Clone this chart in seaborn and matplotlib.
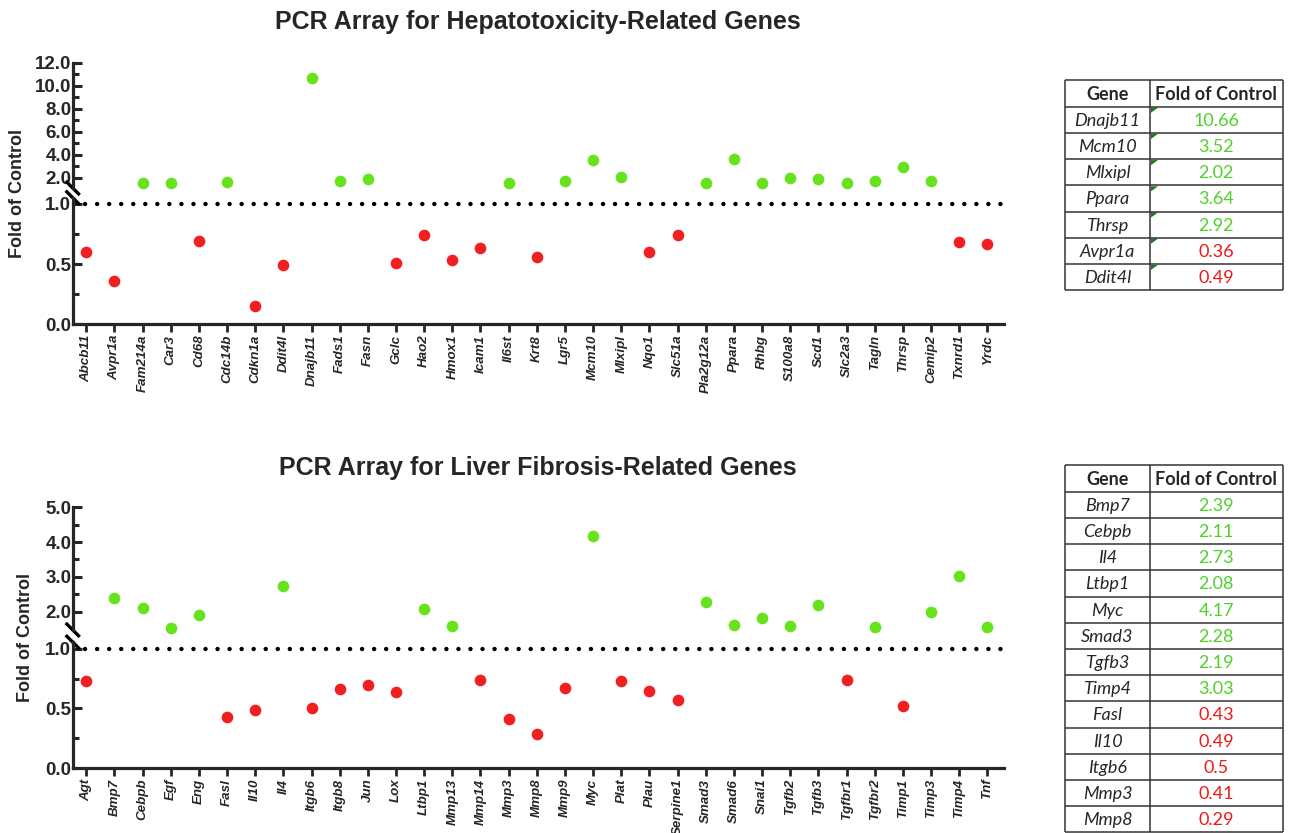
import numpy as np
import pandas as pd
import seaborn as sns
import matplotlib.pyplot as plt
from matplotlib.patches import Polygon


sns.set_theme(style='ticks')
plt.rcParams['font.family'] = ['Liberation Sans', 'DejaVu Sans']
plt.rcParams['font.weight'] = 'bold'

green = '#66e31b'
red = '#f11f1f'
tab_green = '#4fd12a'
tab_red = '#f01818'

# hepatotoxicity array
hep_genes = ['Abcb11', 'Avpr1a', 'Fam214a', 'Car3', 'Cd68', 'Cdc14b', 'Cdkn1a',
             'Ddit4l', 'Dnajb11', 'Fads1', 'Fasn', 'Gclc', 'Hao2', 'Hmox1', 'Icam1',
             'Il6st', 'Krt8', 'Lgr5', 'Mcm10', 'Mlxipl', 'Nqo1', 'Slc51a', 'Pla2g12a',
             'Ppara', 'Rhbg', 'S100a8', 'Scd1', 'Slc2a3', 'Tagln', 'Thrsp', 'Cemip2',
             'Txnrd1', 'Yrdc']
hep_fold = [0.60, 0.36, 1.57, 1.54, 0.69, 1.59, 0.15, 0.49, 10.66, 1.74, 1.91,
            0.51, 0.74, 0.53, 0.63, 1.54, 0.56, 1.71, 3.52, 2.02, 0.60, 0.74,
            1.57, 3.64, 1.54, 1.97, 1.86, 1.57, 1.69, 2.92, 1.74, 0.68, 0.67]

# liver fibrosis array
fib_genes = ['Agt', 'Bmp7', 'Cebpb', 'Egf', 'Eng', 'Fasl', 'Il10', 'Il4', 'Itgb6',
             'Itgb8', 'Jun', 'Lox', 'Ltbp1', 'Mmp13', 'Mmp14', 'Mmp3', 'Mmp8', 'Mmp9',
             'Myc', 'Plat', 'Plau', 'Serpine1', 'Smad3', 'Smad6', 'Snai1', 'Tgfb2',
             'Tgfb3', 'Tgfbr1', 'Tgfbr2', 'Timp1', 'Timp3', 'Timp4', 'Tnf']
fib_fold = [0.73, 2.39, 2.11, 1.52, 1.91, 0.43, 0.49, 2.73, 0.50, 0.66, 0.70,
            0.64, 2.08, 1.59, 0.74, 0.41, 0.29, 0.67, 4.17, 0.73, 0.65, 0.57,
            2.28, 1.60, 1.80, 1.58, 2.19, 0.74, 1.55, 0.52, 1.99, 3.03, 1.55]

# side tables
hep_tab_genes = ['Dnajb11', 'Mcm10', 'Mlxipl', 'Ppara', 'Thrsp', 'Avpr1a', 'Ddit4l']
hep_tab_fold = ['10.66', '3.52', '2.02', '3.64', '2.92', '0.36', '0.49']
fib_tab_genes = ['Bmp7', 'Cebpb', 'Il4', 'Ltbp1', 'Myc', 'Smad3', 'Tgfb3', 'Timp4',
                 'Fasl', 'Il10', 'Itgb6', 'Mmp3', 'Mmp8']
fib_tab_fold = ['2.39', '2.11', '2.73', '2.08', '4.17', '2.28', '2.19', '3.03',
                '0.43', '0.49', '0.5', '0.41', '0.29']

W, H = 1290, 833
fig = plt.figure(figsize=(W / 100, H / 100), dpi=100, facecolor='white')


def px_axes(left, top, right, bottom):
    return fig.add_axes([left / W, 1 - bottom / H, (right - left) / W, (bottom - top) / H])


def slash(ax, y, w_px, h_px):
    dx, dy = 7 / w_px, 7 / h_px
    ax.plot([-dx, dx], [y + dy, y - dy], transform=ax.transAxes, color='black',
            lw=2.4, clip_on=False, solid_capstyle='butt')


def panel(genes, fold, title, top, brk_up, brk_lo, bottom, up_lim, lo_top,
          up_major, up_minor, title_y, ylab_x):
    df = pd.DataFrame({'gene': genes, 'fold': fold})
    df['dir'] = np.where(df['fold'] >= 1, 'up', 'down')
    left, right = 72.7, 1004
    ax_up = px_axes(left, top, right, brk_up)
    ax_lo = px_axes(left, brk_lo, right, bottom)

    parts = [(ax_up, df[df['fold'] >= 1], up_lim), (ax_lo, df[df['fold'] < 1], (0, lo_top))]
    for ax, part, lim in parts:
        sns.stripplot(data=part, x='gene', y='fold', hue='dir', order=genes,
                      hue_order=['up', 'down'], palette={'up': green, 'down': red},
                      jitter=False, size=8.4, linewidth=0, legend=False, ax=ax)
        for coll in ax.collections:
            coll.set_clip_on(False)
        ax.set_xlim(-0.48, len(genes) - 1 + 0.59)
        ax.set_ylim(*lim)
        ax.set_xlabel('')
        ax.set_ylabel('')
        sns.despine(ax=ax)
        for s in ['left', 'bottom']:
            ax.spines[s].set_linewidth(2.3)
        ax.yaxis.set_major_formatter('{x:.1f}')
        ax.tick_params(axis='y', which='major', direction='in', length=6.5,
                       width=2.2, labelsize=13.5, pad=1)
        ax.tick_params(axis='y', which='minor', direction='in', length=4.3, width=2.2)
        ax.set_facecolor('none')

    ax_up.set_yticks(up_major)
    ax_up.set_yticks(up_minor, minor=True)
    ax_up.spines['bottom'].set_visible(False)
    ax_up.tick_params(axis='x', bottom=False, labelbottom=False)

    ax_lo.set_yticks([0, 0.5, 1.0])
    ax_lo.set_yticks([0.25, 0.75], minor=True)
    ax_lo.axhline(1.0, color='black', lw=3.2, ls=(0, (0.01, 2.7)),
                  dash_capstyle='round', zorder=1)
    ax_lo.tick_params(axis='x', rotation=90, labelsize=9.6, direction='out',
                      length=5.5, width=2, pad=2)
    for lbl in ax_lo.get_xticklabels():
        lbl.set_fontstyle('italic')

    slash(ax_up, 0, right - left, brk_up - top)
    slash(ax_lo, 1, right - left, bottom - brk_lo)

    fig.text(538 / W, 1 - title_y / H, title, ha='center', va='center', fontsize=18)
    fig.text(ylab_x / W, 1 - (top + bottom) / 2 / H, 'Fold of Control', rotation=90,
             ha='center', va='center', fontsize=13)


def draw_table(genes, values, top, bottom, head_h, row_h, marks):
    left, right, div = 1065, 1282.7, 85
    w = right - left
    ax = px_axes(left, top, right, bottom)
    ax.set_xlim(0, w)
    ax.set_ylim(bottom - top, 0)
    ax.axis('off')
    n = len(genes)
    ys = [0, head_h] + [head_h + (i + 1) * row_h for i in range(n)]
    ax.hlines(ys, 0, w, color='#333333', lw=1.1, clip_on=False)
    ax.vlines([0, div, w], 0, ys[-1], color='#333333', lw=1.1, clip_on=False)
    tf = ['Lato', 'DejaVu Sans']
    ax.text(div / 2, head_h / 2 + 1, 'Gene', ha='center', va='center', fontsize=13,
            fontweight='bold', family=tf)
    ax.text((div + w) / 2, head_h / 2 + 1, 'Fold of Control', ha='center', va='center',
            fontsize=13, fontweight='bold', family=tf)
    for i, (g, v) in enumerate(zip(genes, values)):
        y0 = head_h + i * row_h
        col = tab_green if float(v) > 1 else tab_red
        ax.text(div / 2, y0 + row_h / 2 + 1, g, ha='center', va='center', fontsize=13,
                fontweight='normal', fontstyle='italic', family=tf, clip_on=False)
        ax.text((div + w) / 2, y0 + row_h / 2 + 1, v, ha='center', va='center',
                fontsize=13, fontweight='normal', color=col, family=tf, clip_on=False)
        if marks:
            ax.add_patch(Polygon([(div + 1, y0 + 1), (div + 8, y0 + 1), (div + 1, y0 + 6)],
                                 closed=True, color='#1d7a1d', lw=0))


panel(hep_genes, hep_fold, 'PCR Array for Hepatotoxicity-Related Genes',
      62.7, 188, 197.7, 324.3, (1.1, 12.0), 1.05,
      [2, 4, 6, 8, 10, 12], [3, 5, 7, 9, 11], 22, 18)
panel(fib_genes, fib_fold, 'PCR Array for Liver Fibrosis-Related Genes',
      507.4, 629.9, 642.1, 768.3, (1.47, 5.0), 1.055,
      [2, 3, 4, 5], [2.5, 3.5, 4.5], 468, 26)

draw_table(hep_tab_genes, hep_tab_fold, 80, 290, 26.7, 26.2, True)
draw_table(fib_tab_genes, fib_tab_fold, 464.5, 832.5, 27.2, 26.2, False)

fig.savefig('out.png', dpi=100, facecolor='white')
